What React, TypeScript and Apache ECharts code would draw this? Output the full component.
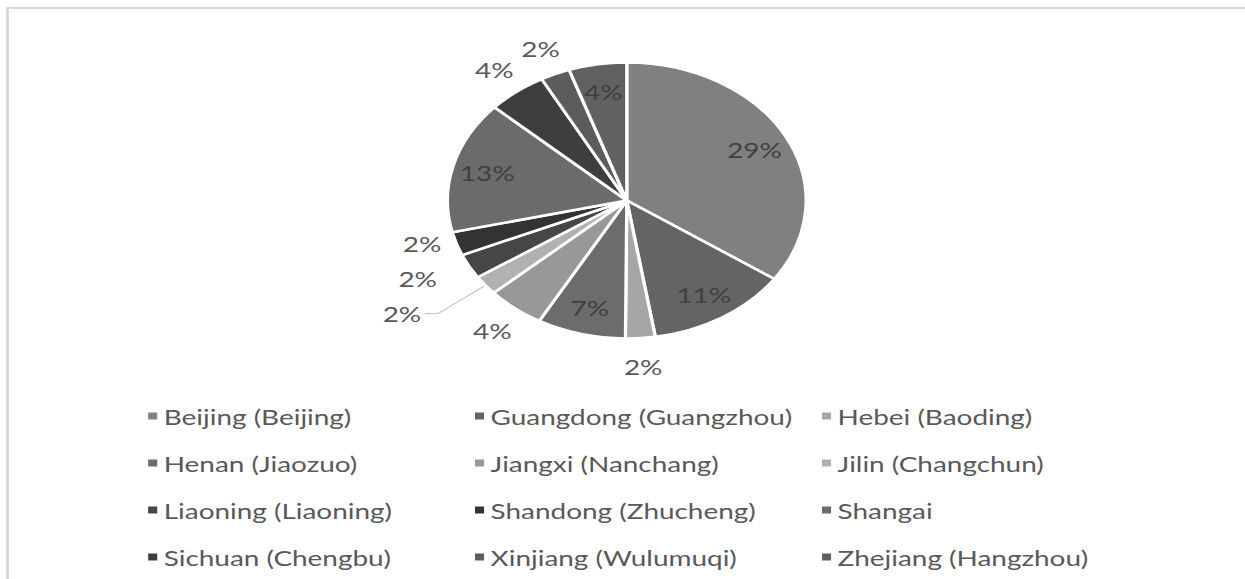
import React, { useEffect, useRef } from "react";
import * as echarts from "echarts";

const names = [
  "Beijing (Beijing)",
  "Guangdong (Guangzhou)",
  "Hebei (Baoding)",
  "Henan (Jiaozuo)",
  "Jiangxi (Nanchang)",
  "Jilin (Changchun)",
  "Liaoning (Liaoning)",
  "Shandong (Zhucheng)",
  "Shangai",
  "Sichuan (Chengbu)",
  "Xinjiang (Wulumuqi)",
  "Zhejiang (Hangzhou)",
];
const values = [28.6, 10.6, 2.2, 6.6, 4.3, 1.9, 2.4, 2.3, 12.8, 4.4, 2.2, 4.3];
const colors = [
  "#808080", "#646464", "#a6a6a6", "#6c6c6c", "#989898", "#b1b1b1",
  "#464646", "#333333", "#6b6b6b", "#3e3e3e", "#5c5c5c", "#616161",
];
// label placement groups (indexes into names)
const insideIdx = [0, 1, 3, 8, 11];
const ringIdx = [2, 4, 7, 9, 10];
const leaderIdx = [5];
const nearIdx = [6];
// legend columns (indexes into names)
const legendCols = [
  [0, 3, 6, 9],
  [1, 4, 7, 10],
  [2, 5, 8, 11],
];

const FONT = "Lato, 'Open Sans', sans-serif";
const FS = 21.5;
const SCALE = 1245 / 958;

export default function App() {
  const ref = useRef<HTMLDivElement>(null);
  useEffect(() => {
    document.body.style.margin = "0";
    document.body.style.overflow = "hidden";
    if (!ref.current) return;
    const chart = echarts.init(ref.current, undefined, { renderer: "svg" });
    const fmt = (p: any) => Math.round(p.value) + "%";
    const cx = 482.3;
    const cy = 200.5;
    const R = 138;

    const mainData = names.map((n, i) => {
      const item: any = { name: n, value: values[i], itemStyle: { color: colors[i] } };
      if (leaderIdx.includes(i)) {
        item.label = { show: true, position: "outside", distanceToLabelLine: 3 };
        item.labelLine = {
          show: true,
          length: 46,
          length2: 10,
          lineStyle: { color: "#bfbfbf", width: 1 },
        };
      } else if (nearIdx.includes(i)) {
        item.label = { show: true, position: "outside", distanceToLabelLine: 2 };
        item.labelLine = { show: false, length: 26, length2: 0 };
      } else {
        item.label = { show: false };
        item.labelLine = { show: false };
      }
      return item;
    });

    const ghostData = (show: number[]) =>
      names.map((n, i) => ({
        name: n,
        value: values[i],
        label: { show: show.includes(i) },
      }));

    chart.setOption({
      animation: false,
      backgroundColor: "#ffffff",
      legend: legendCols.map((col, ci) => ({
        orient: "vertical",
        left: [114, 365.5, 632.5][ci],
        top: 405,
        padding: 0,
        itemWidth: 7,
        itemHeight: 7,
        icon: "rect",
        itemGap: 25,
        selectedMode: false,
        itemStyle: { borderWidth: 0 },
        data: col.map((i) => ({ name: names[i], itemStyle: { color: colors[i], borderWidth: 0 } })),
        textStyle: { fontFamily: FONT, fontSize: FS, color: "#595959", lineHeight: 20 },
      })),
      series: [
        {
          type: "pie",
          center: [cx, cy],
          radius: R,
          startAngle: 90,
          clockwise: true,
          avoidLabelOverlap: false,
          emphasis: { disabled: true },
          itemStyle: { borderColor: "#ffffff", borderWidth: 2.5 },
          label: { fontFamily: FONT, fontSize: FS, color: "#595959", formatter: fmt },
          data: mainData,
        },
        {
          type: "pie",
          center: [cx, cy],
          radius: [80, 136],
          startAngle: 90,
          clockwise: true,
          silent: true,
          avoidLabelOverlap: false,
          emphasis: { disabled: true },
          itemStyle: { color: "rgba(0,0,0,0)", borderWidth: 0 },
          label: { position: "inside", fontFamily: FONT, fontSize: FS, color: "#404040", formatter: fmt },
          labelLine: { show: false },
          data: ghostData(insideIdx),
        },
        {
          type: "pie",
          center: [cx, cy],
          radius: [140, 186],
          startAngle: 90,
          clockwise: true,
          silent: true,
          avoidLabelOverlap: false,
          emphasis: { disabled: true },
          itemStyle: { color: "rgba(0,0,0,0)", borderWidth: 0 },
          label: { position: "inside", fontFamily: FONT, fontSize: FS, color: "#595959", formatter: fmt },
          labelLine: { show: false },
          labelLayout: (p: any) => (p.dataIndex === 7 ? { dy: -9 } : {}),
          data: ghostData(ringIdx),
        },
      ],
    });
    return () => chart.dispose();
  }, []);

  return (
    <div
      style={{
        position: "fixed",
        left: 0,
        top: 0,
        width: 1245,
        height: 579,
        overflow: "hidden",
        background: "#ffffff",
      }}
    >
      <div
        ref={ref}
        style={{
          position: "absolute",
          left: 0,
          top: 0,
          width: 958,
          height: 579,
          transform: `scaleX(${SCALE})`,
          transformOrigin: "0 0",
        }}
      />
      <div
        style={{
          position: "absolute",
          left: 6,
          top: 7,
          width: 1239,
          height: 2,
          background: "#d9d9d9",
          pointerEvents: "none",
        }}
      />
      <div
        style={{
          position: "absolute",
          left: 6,
          top: 7,
          width: 3,
          height: 572,
          background: "#d9d9d9",
          pointerEvents: "none",
        }}
      />
    </div>
  );
}
